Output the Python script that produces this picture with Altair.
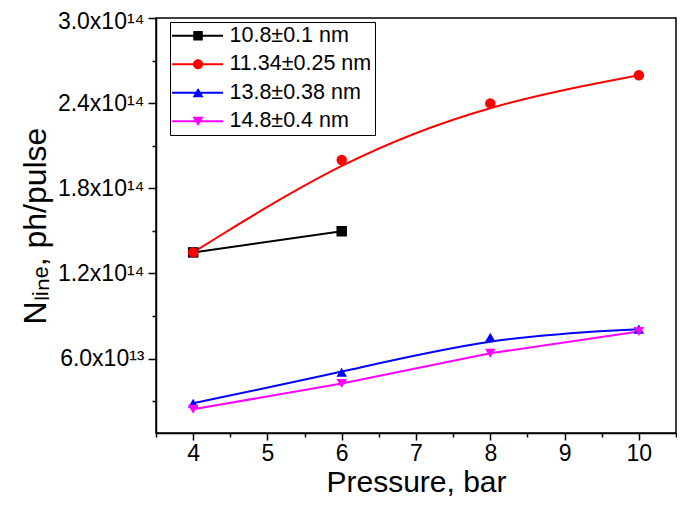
import altair as alt
import pandas as pd

# ---- data ----
series_names = ["10.8±0.1 nm", "11.34±0.25 nm", "13.8±0.38 nm", "14.8±0.4 nm"]
series_colors = ["#000000", "#ff0000", "#0000ff", "#ff00ff"]
marker_shapes = ["square", "circle", "triangle-up", "triangle-down"]
line_curves = ["linear", "basis", "basis", "linear"]

pressure_black = [4, 6]
value_black = [1.348e14, 1.497e14]
pressure_red = [4, 6, 8, 10]
value_red = [1.348e14, 1.999e14, 2.398e14, 2.596e14]
pressure_blue = [4, 6, 8, 10]
value_blue = [2.85e13, 5.03e13, 7.50e13, 8.07e13]
pressure_magenta = [4, 6, 8, 10]
value_magenta = [2.42e13, 4.24e13, 6.37e13, 7.90e13]

x_tick_values = [3.5, 4, 4.5, 5, 5.5, 6, 6.5, 7, 7.5, 8, 8.5, 9, 9.5, 10, 10.5]
y_tick_values = [3e13, 6e13, 9e13, 1.2e14, 1.5e14, 1.8e14, 2.1e14, 2.4e14, 2.7e14, 3.0e14]
y_major_values = [6e13, 1.2e14, 1.8e14, 2.4e14, 3.0e14]
y_major_labels = ["6.0x10¹³", "1.2x10¹⁴", "1.8x10¹⁴", "2.4x10¹⁴", "3.0x10¹⁴"]

# ---- table ----
rows = []
for name, xs, ys in zip(series_names,
                        [pressure_black, pressure_red, pressure_blue, pressure_magenta],
                        [value_black, value_red, value_blue, value_magenta]):
    for x, y in zip(xs, ys):
        rows.append({"series": name, "pressure": x, "value": y})
df = pd.DataFrame(rows)

FONT = "Liberation Sans"

# legend glyphs: line + marker as custom symbol paths
line_part = "M-2.34,-0.22H7.86V0.22H-2.34Z "
legend_paths = [
    line_part + "M1.91,-0.95H3.81V0.95H1.91Z",
    line_part + "M3.86,0A1,1,0,1,1,1.86,0A1,1,0,1,1,3.86,0Z",
    line_part + "M2.86,-0.95L3.96,0.9H1.76Z",
    line_part + "M1.76,-0.9H3.96L2.86,0.95Z",
]

y_label_expr = " : ".join(
    f"datum.value == {v} ? '{t}'" for v, t in zip(y_major_values, y_major_labels)
) + " : ''"

x_scale = alt.Scale(domain=[3.5, 10.5], nice=False, zero=False)
y_scale = alt.Scale(domain=[7.5e12, 3.0e14], nice=False, zero=False)

x_axis = alt.Axis(
    values=x_tick_values,
    labelExpr="datum.value % 1 == 0 ? format(datum.value, 'd') : ''",
    tickSize={"condition": {"test": "datum.value % 1 == 0", "value": 7}, "value": 4},
    title="Pressure, bar",
    titleFontSize=30, titleFont=FONT, titleFontWeight="normal", titleColor="black",
    titlePadding=2,
    labelFontSize=23, labelFont=FONT, labelColor="black", labelPadding=2,
    labelOverlap=False, labelFlush=False,
    domainColor="black", domainWidth=1.5, tickColor="black", tickWidth=1.5,
    grid=False,
)
y_axis = alt.Axis(
    values=y_tick_values,
    labelExpr=y_label_expr,
    tickSize={"condition": {"test": "datum.value % 60000000000000 == 0", "value": 8}, "value": 4},
    labelOffset={"condition": {"test": "datum.value == 300000000000000", "value": 3}, "value": 0},
    title="Nₗᵢₙₑ, ph/pulse",
    titleFontSize=32, titleFont=FONT, titleFontWeight="normal", titleColor="black",
    titlePadding=5,
    labelFontSize=23, labelFont=FONT, labelColor="black", labelPadding=4,
    labelOverlap=False, labelFlush=False,
    domainColor="black", domainWidth=1.5, tickColor="black", tickWidth=1.5,
    grid=False,
)

base = alt.Chart(df)
X = alt.X("pressure:Q", scale=x_scale, axis=x_axis)
Y = alt.Y("value:Q", scale=y_scale, axis=y_axis)

layers = []
for name, col, curve in zip(series_names, series_colors, line_curves):
    layers.append(
        base.transform_filter(alt.datum.series == name)
        .mark_line(color=col, strokeWidth=2, interpolate=curve)
        .encode(x=X, y=Y)
    )
for name, col, shp in zip(series_names, series_colors, marker_shapes):
    layers.append(
        base.transform_filter(alt.datum.series == name)
        .mark_point(color=col, filled=True, shape=shp, size=110, opacity=1)
        .encode(x=X, y=Y)
    )

legend = alt.Legend(
    title=None, orient="none", legendX=14, legendY=4,
    padding=3, labelOffset=35, labelFontSize=21.5, labelFont=FONT, labelColor="black",
    rowPadding=5.5, strokeColor="black", fillColor="white",
    symbolSize=100, symbolStrokeWidth=0, symbolOpacity=1,
)
legend_layer = base.mark_point(filled=True, opacity=0).encode(
    x=X, y=Y,
    color=alt.Color("series:N", scale=alt.Scale(domain=series_names, range=series_colors),
                    legend=legend, sort=series_names),
    shape=alt.Shape("series:N", scale=alt.Scale(domain=series_names, range=legend_paths),
                    legend=legend, sort=series_names),
)
layers.append(legend_layer)

chart = alt.layer(*layers).properties(
    width=520, height=415,
    autosize=alt.AutoSizeParams(type="none"),
    padding={"left": 148, "top": 10, "right": 1, "bottom": 69},
    background="white",
).configure_view(stroke="black", strokeWidth=1.5)

chart.save("out.html", embed_options={"renderer": "svg", "actions": False})
